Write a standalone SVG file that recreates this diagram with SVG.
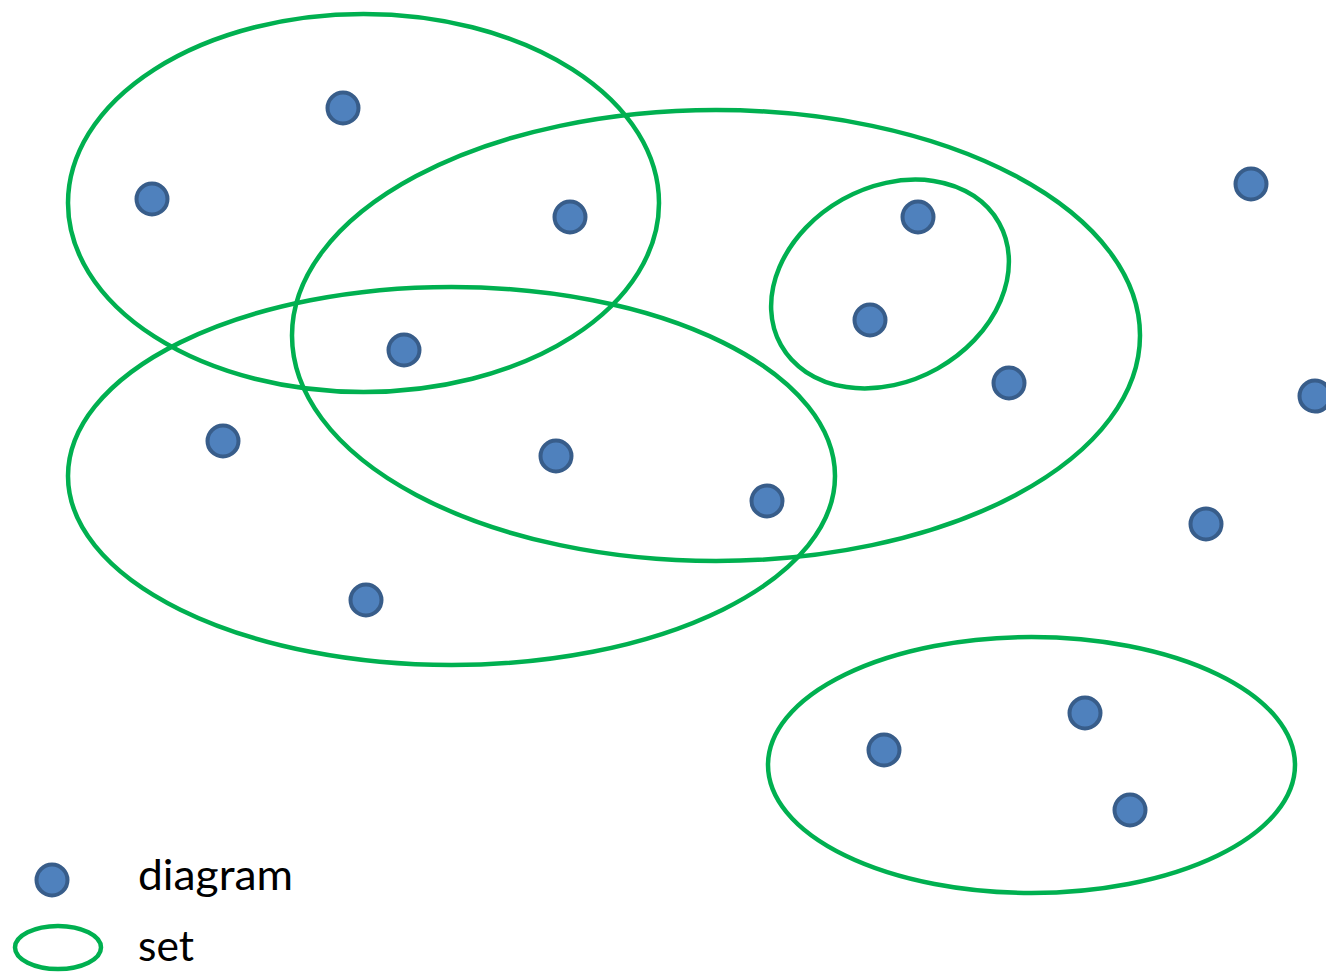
<svg xmlns="http://www.w3.org/2000/svg" width="1326" height="974" viewBox="0 0 1326 974">
<style>
.set{fill:none;stroke:#00B050;stroke-width:4.5}
.dot{fill:#4F81BD;stroke:#385D8A;stroke-width:4}
.lbl{font-family:Lato,"Liberation Sans",sans-serif;font-size:43px;fill:#000}
</style>
<rect width="1326" height="974" fill="#fff"/>
<g id="sets">
<ellipse id="set1" class="set" cx="363.5" cy="203" rx="295.5" ry="189"/>
<ellipse id="set2" class="set" cx="716" cy="335.5" rx="424" ry="225.5"/>
<ellipse id="set3" class="set" cx="451.5" cy="476" rx="383.5" ry="189"/>
<ellipse id="set4" class="set" cx="0" cy="0" rx="125" ry="97" transform="translate(890,284) rotate(-29.3)"/>
<ellipse id="set5" class="set" cx="1031.5" cy="765" rx="263.5" ry="128"/>
</g>
<g id="diagrams">
<circle class="dot" cx="343" cy="108" r="15.5"/>
<circle class="dot" cx="152" cy="199" r="15.5"/>
<circle class="dot" cx="570" cy="217" r="15.5"/>
<circle class="dot" cx="404" cy="350" r="15.5"/>
<circle class="dot" cx="223" cy="441" r="15.5"/>
<circle class="dot" cx="556" cy="456" r="15.5"/>
<circle class="dot" cx="767" cy="501" r="15.5"/>
<circle class="dot" cx="366" cy="600" r="15.5"/>
<circle class="dot" cx="918" cy="217" r="15.5"/>
<circle class="dot" cx="870" cy="320" r="15.5"/>
<circle class="dot" cx="1009" cy="383" r="15.5"/>
<circle class="dot" cx="1251" cy="184" r="15.5"/>
<circle class="dot" cx="1315" cy="396" r="15.5"/>
<circle class="dot" cx="1206" cy="524" r="15.5"/>
<circle class="dot" cx="1085" cy="713" r="15.5"/>
<circle class="dot" cx="884" cy="750" r="15.5"/>
<circle class="dot" cx="1130" cy="810" r="15.5"/>
</g>
<g id="legend">
<circle class="dot" cx="52" cy="880" r="15.5"/>
<text class="lbl" x="138" y="890" textLength="155" lengthAdjust="spacingAndGlyphs">diagram</text>
<ellipse class="set" cx="58" cy="947.5" rx="43" ry="21.5"/>
<text class="lbl" x="138" y="961" textLength="56" lengthAdjust="spacingAndGlyphs">set</text>
</g>
</svg>
